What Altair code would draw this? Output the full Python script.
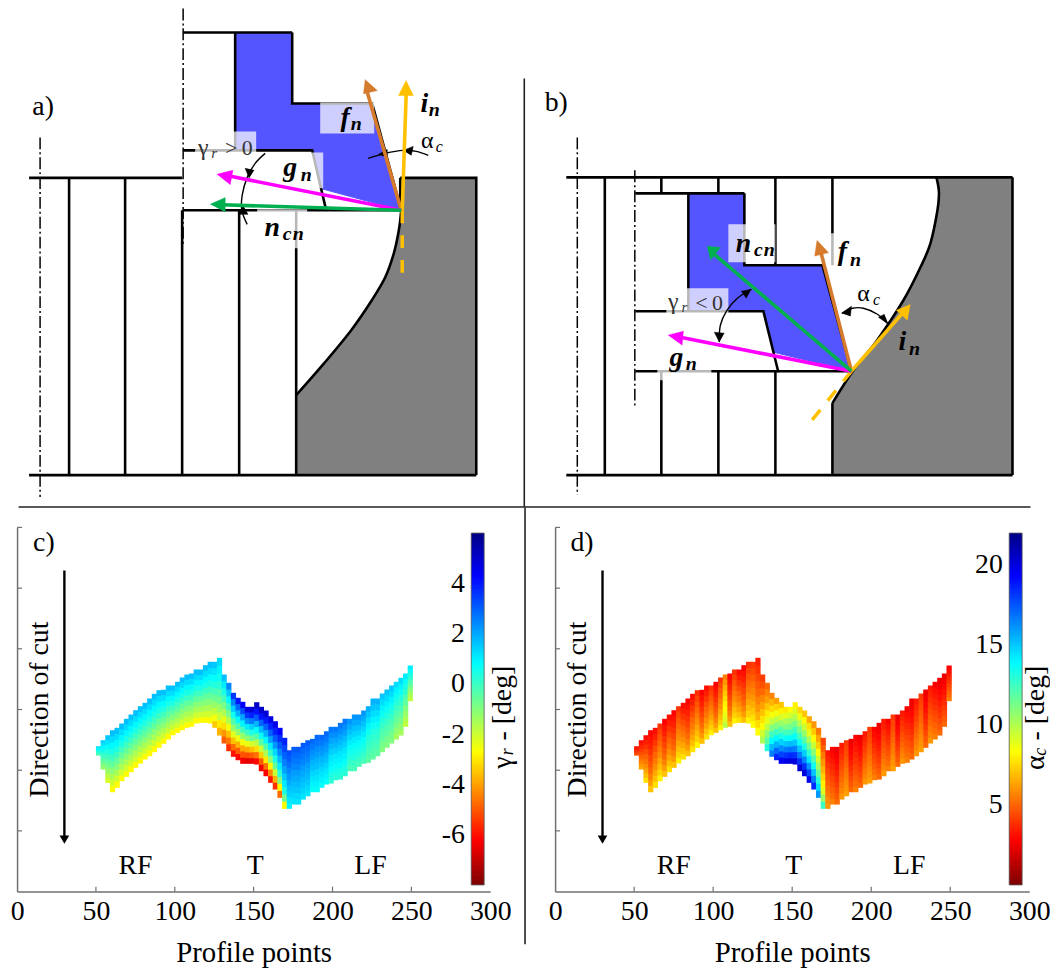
import altair as alt
import pandas as pd

FONT = "Liberation Serif"
BLACK = "#000000"
BLUE = "#5555ff"
GRAY = "#808080"
ORANGE = "#d67a2c"
YELLOW = "#ffc000"
MAGENTA = "#ff00ff"
GREEN = "#00b050"
JET = ["#800000", "#ff0000", "#ffff00", "#00ffff", "#0000ff", "#000080"]
JET_T = [0, 0.125, 0.375, 0.625, 0.875, 1]

# ---------- heat map boundaries (depth units, 68 profile columns)
TOPS = [221.7,215.7,210.7,205.7,203.3,199,194.3,190,185.7,181.7,178.3,174,169.3,165.7,165.3,161,161,157.3,153,150,149,145,145,140.7,137.3,137.3,133.3,150,158.3,168.3,173.3,177.3,182.3,182.3,177.7,182.3,186,191.7,196.7,203.3,213.3,225.7,222.3,222.3,218.3,215.7,214.3,210.3,210.3,206.7,202.3,202.3,198.3,194.3,194.3,190,190,186,181.7,174,174,169,165,161,157.3,153.3,149,141]
BOTS = [231,245,258.3,267.7,263.3,256.7,252.3,247.7,243.3,239,235,231.7,227.7,223.3,219.3,215,210.7,208.3,205.7,203.3,202.3,199,198.3,198.3,199,203.3,211,219,226.7,232.3,235.7,239.3,239.3,239.3,240,246.7,251.7,258.3,265,273.3,284.3,284.3,280,280,275,271.7,267.7,267.7,263.3,260,259,255.7,255,251.7,246.7,246.7,242.3,239.3,238.3,235,231.7,227.7,223.3,219,215,211,202.3,176.7]

# ---------- colour read per column, top to bottom of the band
GAMMA_PROFILES = {
 "a": [1.2,1.0,0.9,0.7,0.5,0.3,0.2,0.0,-0.2,-0.4],
 "b": [1.4,1.1,.8,.5,.2,-.1,-.4,-.7,-1,-1.3],
 "c": [1.5,1.1,.7,.3,-.1,-.5,-.9,-1.3,-1.8,-2.2],
 "r": [1.6,1.2,.8,.4,-.1,-.6,-1.1,-1.6,-2.1,-2.8],
 "p": [1.5,1.1,.7,.3,-.2,-.7,-1.3,-1.9,-2.6,-3.5],
 "t0": [1.2,.9,.6,.2,-.3,-.8,-1.4,-2,-3,-3.8],
 "t1": [1.6,1.0,.4,-.2,-.9,-1.6,-2.4,-3.2,-4.2,-5],
 "t2": [2.4,1.5,.7,-.1,-.9,-1.7,-2.6,-3.6,-4.6,-5.6],
 "t3": [3.5,2.4,1.4,.5,-.4,-1.3,-2.4,-3.6,-4.8,-6],
 "t4": [4,2.9,1.8,.8,-.3,-1.3,-2.5,-3.8,-5,-6.2],
 "t5": [4.3,3.2,2,.9,-.2,-1.3,-2.6,-3.9,-5.1,-6.4],
 "t6": [4.6,3.5,2.3,1,-.1,-1.2,-2.5,-3.9,-5.2,-6.6],
 "t7": [4.8,3.8,2.6,1.4,.4,-.7,-2.2,-3.6,-5,-6.5],
 "t8": [5,4,3,1.8,.7,-.4,-1.8,-3.2,-4.7,-6.2],
 "t9": [5,4,2.9,1.7,.6,-.5,-2,-3.4,-5,-6.4],
 "t10": [4.8,3.9,2.9,1.8,.8,-.3,-1.6,-3,-4.7,-6.3],
 "t11": [4.6,3.8,2.9,2,1,0,-1.2,-2.8,-4.4,-6],
 "t12": [4.5,3.8,3,2.2,1.3,.4,-.6,-2,-3.8,-5.6],
 "t13": [4.3,3.6,3,2.4,1.7,1,.2,-1,-2.8,-4.8],
 "t14": [3.8,3.3,2.9,2.5,2,1.5,1,.3,-.8,-2.8],
 "t15": [3.2,3,2.7,2.4,2.2,1.9,1.6,1.4,1.1,.9],
 "l0": [3,2.8,2.6,2.4,2.1,1.9,1.7,1.5,1.3,1.1],
 "l1": [2.8,2.6,2.3,2.1,1.8,1.6,1.3,1.1,.9,.7],
 "l2": [2.6,2.3,2,1.7,1.4,1.1,.9,.7,.4,.2],
 "l3": [2.2,1.9,1.6,1.3,1,.7,.5,.3,0,-.2],
 "l4": [1.8,1.5,1.2,.9,.6,.3,.1,-.1,-.3,-.5],
 "l5": [1.5,1.2,.9,.6,.3,0,-.3,-.5,-.8,-1],
 "l6": [1.2,.9,.6,.3,0,-.3,-.6,-.9,-1.2,-1.5],
 "l7": [1,.7,.4,.1,-.3,-.6,-1,-1.3,-1.6,-1.9],
}
GAMMA_COLUMNS = (["a","b","c"] + ["r"]*22 +
                 ["p","t0","t1","t2","t3","t4","t5","t6","t7","t8","t9","t10","t11","t12","t13","t14","t15",
                  "l0","l0","l0","l0","l1","l1","l1","l1","l2","l2","l2","l2","l3","l3","l3","l3","l4","l4","l4","l5","l5","l5","l6","l6","l7","l7"])[:68]

ALPHA_PROFILES = {
 "a": [3,3,3.2,3.4,3.6,3.8,4,4.2,4.4,4.6],
 "b": [3,3.3,3.6,4,4.4,4.8,5.2,5.6,6,6.4],
 "d1": [3,3.4,3.9,4.4,4.9,5.3,5.8,6.3,6.9,7.6],
 "d2": [3.8,4.2,4.6,5,5.4,5.8,6.3,6.8,7.3,8],
 "d3": [2.8,3.1,3.4,3.8,4.2,4.6,5,5.5,6.1,6.9],
 "d4": [5.5,6,6.5,7,7.5,8,8.3,8.7,9,9.8],
 "t0": [4,4.4,4.8,5.2,5.6,6,6.5,7,7.6,8.2],
 "t1": [3.4,3.8,4.2,4.6,5,5.5,6,6.6,7.5,8.3],
 "t2": [4,4.5,5,5.6,6.2,6.9,7.6,8.3,9.2,10],
 "t3": [5,5.6,6.2,7,7.8,8.7,9.6,10.7,11.8,13],
 "t4": [5.6,6.6,7.5,8.5,9.6,11,12.4,13.8,15.2,16.5],
 "t5": [6.2,7.3,8.5,9.7,11,12.4,13.9,15.4,17,18.5],
 "t6": [7,8,9.2,10.5,11.9,13.2,14.7,16.2,17.8,19.4],
 "t7": [7.8,8.8,10,11,12.3,13.6,15,16.6,18.2,19.8],
 "t8": [8.3,9.2,10.3,11.3,12.4,13.7,15.2,16.8,18.4,20],
 "t9": [8,9,10,11.2,12.4,13.6,15,16.5,18.2,20],
 "t10": [7.4,8.6,9.8,11,12.2,13.5,15,16.6,18.2,20.2],
 "t11": [7,8.2,9.4,10.6,11.9,13.2,14.8,16.4,18.2,20],
 "t12": [6.4,7.6,8.8,10,11.3,12.7,14.2,16,17.8,19.6],
 "t13": [6,7.1,8.2,9.4,10.7,12,13.4,15,16.6,18.4],
 "t14": [5.4,6.3,7.2,8.2,9.3,10.4,11.6,13,14.5,16],
 "t15": [4.2,4.8,5.4,6,6.6,7.3,8,9,10.5,12.5],
 "t16": [3.2,3.5,3.9,4.2,4.5,4.8,5.1,5.4,5.7,6],
 "l1": [2.7,3,3.3,3.6,3.9,4.2,4.5,4.8,5.1,5.5],
 "l2": [3.3,3.5,3.8,4.1,4.4,4.7,5,5.3,5.6,6],
 "l3": [2.4,2.6,2.9,3.1,3.4,3.7,4,4.3,4.6,5],
 "l4": [4,4.2,4.4,4.7,4.9,5.2,5.4,5.7,5.9,6.2],
}
ALPHA_COLUMNS = ["a","b","d1","d3","d1","d2","d3","d1","d3","d2","d1","d3","d1","d2","d3","d1","d2","d3","d2","d4","d3","d2","d1","d3","d2",
                 "t0","t1","t2","t3","t4","t5","t6","t7","t8","t9","t10","t11","t12","t13","t14","t15","t16",
                 "l1","l3","l2","l4","l3","l1","l3","l2","l4","l1","l3","l2","l1","l4","l3","l2","l1","l3","l2","l4","l3","l2","l1","l3","l3","l1"]

PX_TICKS = [0, 50, 100, 150, 200, 250, 300]
DEPTH_TICKS = [3, 63.7, 124.3, 185, 245.7, 306.3, 367]
GAMMA_TICKS = [-6, -4, -2, 0, 2, 4]
ALPHA_TICKS = [5, 10, 15, 20]

# ---------- schematic geometry (picture coordinates)
CURVE_AX = [401,398.6,393.6,385,371.6,351,324,296]
CURVE_AY = [210,230,253,277,300,330,363,395]
GRAY_A = ([400,476,476,296] + CURVE_AX[::-1] + [400], [177.5,177.5,475,475] + CURVE_AY[::-1] + [177.5])
BLUE_A = ([235,292,292,372,401,320,312,235], [32,32,103,103,210,188,150,150])
LINES_A = [
 ([29,182],[177.5,177.5]), ([29,476],[475,475]), ([400,476,476],[177.5,177.5,475]),
 ([69,69],[177.5,475]), ([125,125],[177.5,475]), ([182,182],[210,475]), ([239,239],[210,475]), ([296,296],[210,475]),
 ([183,401],[210,210]),
 ([183,292],[32,32]), ([235,235],[32,150]), ([292,292,372,401],[32,103,103,210]),
 ([183,312,326],[150,150,210]),
 ([400,400],[177.5,210]),
]
CURVE_BX = [832,853,876.7,903,920,930,937,938.5,936]
CURVE_BY = [403,370,340,300,267,243,210,192,177]
GRAY_B = ([936,1012,1012,832] + CURVE_BX, [177,177,475,475] + CURVE_BY)
BLUE_B = ([688,744,744,822,851,773.3,763,688], [193,193,265,265,371,352,311,311])
LINES_B = [
 ([566,1012],[177,177]), ([566,1012],[475,475]), ([1012,1012],[177,475]),
 ([604.5,604.5],[177,475]), ([661,661],[177,193]), ([718,718],[177,193]), ([775,775],[177,265]), ([832,832],[177,265]),
 ([661,661],[371,475]), ([718,718],[371,475]), ([775,775],[371,475]), ([832,832],[403,475]),
 ([635,744],[193,193]), ([688,688],[193,311]), ([744,744,822,851],[193,265,265,371]),
 ([635,763,778],[311,311,372]), ([635,851],[371,371]),
]
BOXES_A = [(320,374,102,133),(195,256,131,153),(278,323,152,188),(257,307,209,248)]
BOXES_B = [(728,775,224,262),(830,866,233,266),(666,728,288,313),(657,711,360,380)]
DASHDOT = [([40,40],[137,497]),([183,183],[8,245]),([577,577],[137,495]),([634.5,634.5],[170,408])]
ARROWS = [
 (ORANGE,[401,366],[210,88],[365,363.3,377.3],[79,93.3,90]),
 (YELLOW,[402,406],[210,92],[406,398.3,413.3],[80,95,95]),
 (MAGENTA,[401,228],[210,175.5],[216.7,232.7,230],[174,170,184.3]),
 (GREEN,[401,222],[210,204.5],[210,225,225],[204,197.3,211.7]),
 (ORANGE,[851,820],[371,250],[816.7,814.3,828.3],[240,255.7,252.3]),
 (YELLOW,[851,902],[371,313],[910,896,907],[304.3,310,320]),
 (MAGENTA,[851,680],[371,337],[667.7,683,681.7],[335,331,345]),
 (GREEN,[851,714],[371,254],[706.7,720,710],[246,247.3,260]),
]
DASHED = [([402,402],[210,275]),([851,810],[371,422])]
ARCS = [
 ([368,385,403,416,428],[158,153,150,151,155]),
 ([265,255,247,242,241.7,247],[153,163,177,195,210,224]),
 ([841.7,852,863,877,888],[313,308,308,314,324]),
 ([751,737,726.7,720,719],[289,298,310,325,341.7]),
]
SMALL_HEADS = [
 ([378,387,387],[154,149,157]), ([403,413,411],[150,146,155]),
 ([249,245,254],[178,168,170]), ([243,238,248],[205,214,214]),
 ([841,851,850],[313,306,316]), ([888,878,884],[324,317,314]),
 ([751,741,746],[289,291,298]), ([719,714,724],[342,332,333]),
]
# x, y, text, size, bold, italic, colour
LABELS = [
 (43,107,"a)",28,False,False,BLACK),(556,103,"b)",28,False,False,BLACK),
 (345,118,"f",28,True,True,BLACK),(356,124,"n",20,True,True,BLACK),
 (424,104,"i",28,True,True,BLACK),(434,110,"n",20,True,True,BLACK),
 (290,168,"g",28,True,True,BLACK),(306,175,"n",20,True,True,BLACK),
 (272,228,"n",28,True,True,BLACK),(287,234,"c",20,True,True,BLACK),(298,234,"n",20,True,True,BLACK),
 (427,141,"α",24,False,False,BLACK),(439,147,"c",16,False,True,BLACK),
 (203,148,"γ",24,False,False,"#333333"),(214,153,"r",15,False,True,"#333333"),(231,148,">",22,False,False,"#333333"),(247,148,"0",22,False,False,"#333333"),
 (743,244,"n",28,True,True,BLACK),(758,250,"c",20,True,True,BLACK),(769,250,"n",20,True,True,BLACK),
 (842,252,"f",28,True,True,BLACK),(855,260,"n",20,True,True,BLACK),
 (902,342,"i",28,True,True,BLACK),(914,349,"n",20,True,True,BLACK),
 (676,358,"g",28,True,True,BLACK),(691,364,"n",20,True,True,BLACK),
 (863,294,"α",24,False,False,BLACK),(876,300,"c",16,False,True,BLACK),
 (673,302,"γ",24,False,False,"#333333"),(684,307,"r",15,False,True,"#333333"),(701,303,"<",22,False,False,"#333333"),(717,303,"0",22,False,False,"#333333"),
]

# ---------- top panel: both schematics
SX = alt.Scale(domain=[8, 1050], range=[0.07, 1050.5], nice=False, zero=False)
SY = alt.Scale(domain=[8, 507], range=[-3.17, 499.2], nice=False, zero=False)


def path(xs, ys, **mark):
    df = pd.DataFrame({"x": xs, "y": ys, "o": list(range(len(xs)))})
    return alt.Chart(df).mark_line(**mark).encode(
        x=alt.X("x:Q", scale=SX, axis=None), y=alt.Y("y:Q", scale=SY, axis=None), order="o:O")


def box(b):
    df = pd.DataFrame({"x": [b[0]], "x2": [b[1]], "y": [b[2]], "y2": [b[3]]})
    return alt.Chart(df).mark_rect(color="#ffffff", opacity=0.72).encode(
        x=alt.X("x:Q", scale=SX, axis=None), x2="x2:Q", y=alt.Y("y:Q", scale=SY, axis=None), y2="y2:Q")


def label(x, y, t, size, bold, italic, col):
    df = pd.DataFrame({"x": [x], "y": [y], "t": [t]})
    return alt.Chart(df).mark_text(font=FONT, fontSize=size, fontWeight="bold" if bold else "normal",
                                   fontStyle="italic" if italic else "normal", color=col,
                                   align="center", baseline="middle").encode(
        x=alt.X("x:Q", scale=SX, axis=None), y=alt.Y("y:Q", scale=SY, axis=None), text="t:N")


top_layers = [
    path(*GRAY_A, fill=GRAY, stroke=GRAY, strokeWidth=1),
    path(*GRAY_B, fill=GRAY, stroke=GRAY, strokeWidth=1),
    path(*BLUE_A, fill=BLUE, stroke=BLUE, strokeWidth=1),
    path(*BLUE_B, fill=BLUE, stroke=BLUE, strokeWidth=1),
]
top_layers += [path(*l, stroke=BLACK, strokeWidth=2.6) for l in LINES_A + LINES_B]
top_layers.append(path(CURVE_AX, CURVE_AY, stroke=BLACK, strokeWidth=2.6, interpolate="cardinal"))
top_layers.append(path(CURVE_BX, CURVE_BY, stroke=BLACK, strokeWidth=2.6, interpolate="cardinal"))
top_layers += [path(*d, stroke=BLACK, strokeWidth=1.5, strokeDash=[12, 3, 2, 3]) for d in DASHDOT]
top_layers += [box(b) for b in BOXES_A + BOXES_B]
top_layers += [path(*d, stroke=YELLOW, strokeWidth=3.5, strokeDash=[13, 12]) for d in DASHED]
top_layers += [path(*a, stroke=BLACK, strokeWidth=1.4, interpolate="cardinal") for a in ARCS]
top_layers += [path(*h, fill=BLACK, stroke=BLACK, strokeWidth=0.5) for h in SMALL_HEADS]
for col, sx, sy, hx, hy in ARROWS:
    top_layers.append(path(sx, sy, stroke=col, strokeWidth=3.6))
    top_layers.append(path(hx, hy, fill=col, stroke=col, strokeWidth=0.5))
top_layers += [label(*t) for t in LABELS]
top_layers.append(path([18.5, 1030], [507, 507], stroke="#222222", strokeWidth=1.6))
top_layers.append(path([524, 524], [78, 507], stroke="#222222", strokeWidth=1.6))
top = alt.layer(*top_layers).properties(width=1042, height=499)


# ---------- bottom panels
PLOT_H = 367
PANEL_H = 428


def heat_panel(profiles, columns, domain, ticks, xr, width, tag, name, sub, bar_x, title_x, divider):
    x_scale = alt.Scale(domain=[0, 300], range=xr, nice=False, zero=False)
    y_scale = alt.Scale(domain=[3, 367], range=[0, PLOT_H], nice=False, zero=False)
    c_domain = [domain[0] + (domain[1] - domain[0]) * t for t in JET_T]
    c_scale = alt.Scale(domain=c_domain, range=JET, interpolate="rgb", nice=False, zero=False)
    rows = []
    for i, key in enumerate(columns):
        t, b = TOPS[i], BOTS[i]
        vals = profiles[key]
        h = (b - t) / len(vals)
        left = 50 + 2.95 * i
        for j, v in enumerate(vals):
            y0 = t + h * j
            rows.append({"x": left, "x2": left + 3.3, "y": y0,
                         "y2": y0 + h + (0.7 if j < len(vals) - 1 else 0), "v": v})
    cells = pd.DataFrame(rows)
    xaxis = alt.Axis(values=PX_TICKS, ticks=False, grid=False, labelFont=FONT, labelFontSize=28,
                     labelColor=BLACK, labelPadding=6, labelFlush=False, labelOverlap=False,
                     title="Profile points", titleFont=FONT, titleFontSize=29, titleFontWeight="normal",
                     titleColor=BLACK, titlePadding=13, domainColor="#707070", domainWidth=1.5,
                     offset=PLOT_H - PANEL_H)
    yaxis = alt.Axis(values=DEPTH_TICKS, ticks=False, labels=False, grid=False, title=None,
                     domainColor="#707070", domainWidth=1.5, offset=-xr[0])
    X = lambda f: alt.X(f, scale=x_scale, axis=xaxis, title="Profile points")
    Y = lambda f: alt.Y(f, scale=y_scale, axis=yaxis, title=None)
    heat = alt.Chart(cells).mark_rect(strokeWidth=0).encode(
        x=X("x:Q"), x2="x2:Q", y=Y("y:Q"), y2="y2:Q",
        color=alt.Color("v:Q", scale=c_scale, legend=None))
    xt = alt.Chart(pd.DataFrame({"x": PX_TICKS[1:-1]})).mark_rule(color="#707070", strokeWidth=1.2).encode(
        x=X("x:Q"), y=alt.value(PLOT_H), y2=alt.value(PLOT_H - 5))
    yt = alt.Chart(pd.DataFrame({"y": DEPTH_TICKS[:-1]})).mark_rule(color="#707070", strokeWidth=1.2).encode(
        y=Y("y:Q"), x=alt.value(xr[0]), x2=alt.value(xr[0] + 5))
    arrow = alt.Chart(pd.DataFrame({"x": [30], "y": [46], "y2": [312]})).mark_rule(color=BLACK, strokeWidth=2.4).encode(
        x=X("x:Q"), y=Y("y:Q"), y2="y2:Q")
    head = alt.Chart(pd.DataFrame({"x": [30], "y": [315]})).mark_point(
        shape="triangle-down", filled=True, color=BLACK, size=95, opacity=1).encode(
        x=X("x:Q"), y=Y("y:Q"))
    words = pd.DataFrame({"x": [75, 151, 224], "y": [341, 341, 341], "t": ["RF", "T", "LF"]})
    region = alt.Chart(words).mark_text(font=FONT, fontSize=28, color=BLACK, baseline="middle").encode(
        x=X("x:Q"), y=Y("y:Q"), text="t:N")
    tagm = alt.Chart(pd.DataFrame({"x": [17], "y": [19], "t": [tag]})).mark_text(
        font=FONT, fontSize=28, color=BLACK, baseline="middle").encode(
        x=X("x:Q"), y=Y("y:Q"), text="t:N")
    cut = alt.Chart(pd.DataFrame({"x": [14.5], "y": [185], "t": ["Direction of cut"]})).mark_text(
        font=FONT, fontSize=28, color=BLACK, angle=270, baseline="middle").encode(
        x=X("x:Q"), y=Y("y:Q"), text="t:N")

    def vtext(t, py, size, style, xp=title_x):
        return alt.Chart(pd.DataFrame({"t": [t]})).mark_text(
            font=FONT, fontSize=size, fontStyle=style, color=BLACK, angle=270, baseline="middle").encode(
            x=alt.value(xp), y=alt.value(py), text="t:N")

    inner = [heat, xt, yt, arrow, head, region, tagm, cut,
             vtext(name, 237, 28, "normal"), vtext(sub, 226, 18, "italic", title_x + 5),
             vtext("- [deg]", 177, 28, "normal")]
    if divider:
        inner.append(alt.Chart(pd.DataFrame({"a": [1]})).mark_rule(color="#222222", strokeWidth=1.6).encode(
            x=alt.value(0), y=alt.value(-20), y2=alt.value(420)))

    # colour bar on its own scale
    b_scale = alt.Scale(domain=domain, range=[360.3, 5.7], nice=False, zero=False)
    step = (domain[1] - domain[0]) / 140
    ramp = [domain[0] + step * k for k in range(140)]
    bdf = pd.DataFrame({"v": ramp, "v2": [u + step * 1.3 if u + step * 1.3 < domain[1] else domain[1] for u in ramp]})
    baxis = alt.Axis(values=ticks, ticks=False, domain=False, grid=False, orient="left", title=None,
                     labelFont=FONT, labelFontSize=28, labelColor=BLACK, labelPadding=7, offset=-bar_x,
                     labelExpr="toString(datum.value)")
    cbar = alt.Chart(bdf).mark_rect(strokeWidth=0).encode(
        y=alt.Y("v:Q", scale=b_scale, axis=baxis, title=None), y2="v2:Q",
        x=alt.value(bar_x), x2=alt.value(bar_x + 13),
        color=alt.Color("v:Q", scale=c_scale, legend=None))
    frame = alt.Chart(pd.DataFrame({"v": [domain[0]], "v2": [domain[1]]})).mark_rect(
        fillOpacity=0, stroke="#555555", strokeWidth=0.8).encode(
        y=alt.Y("v:Q", scale=b_scale, axis=baxis, title=None), y2="v2:Q",
        x=alt.value(bar_x), x2=alt.value(bar_x + 13))
    return alt.layer(alt.layer(*inner), alt.layer(cbar, frame)).resolve_scale(y="independent").properties(width=width, height=PANEL_H)


c = heat_panel(GAMMA_PROFILES, GAMMA_COLUMNS, [-8, 6], GAMMA_TICKS, [9.14, 485.96], 520.2, "c)", "γ", "r", 466.8, 499, False)
d = heat_panel(ALPHA_PROFILES, ALPHA_COLUMNS, [0, 22], ALPHA_TICKS, [30.3, 508.1], 521.8, "d)", "α", "c", 487.9, 515, True)

bottom = alt.hconcat(c, d, spacing=0, bounds="flush").resolve_scale(color="independent")
chart = alt.vconcat(top, bottom, spacing=20.7, bounds="flush").properties(
    padding=0, background="white", autosize=alt.AutoSizeParams(type="none"),
    usermeta={"embedOptions": {"width": 1050, "height": 962}}).configure_view(stroke=None)
chart.save("out.html", embed_options={"renderer": "svg", "actions": False})
